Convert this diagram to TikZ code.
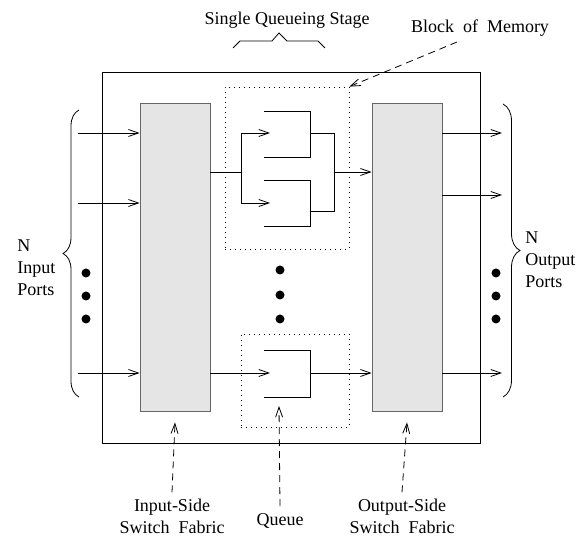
\documentclass[tikz,border=0pt]{standalone}
\usepackage{fontspec}
\setmainfont{Liberation Serif}
\usetikzlibrary{arrows.meta,decorations.pathreplacing}

\tikzset{
  fabric/.style={draw=black!60,fill=black!10,minimum width=70pt,minimum height=308pt,inner sep=0pt},
  stagebox/.style={draw,dash pattern=on 1pt off 4pt,inner sep=0pt},
  callout/.style={dash pattern=on 7pt off 5pt,->},
  portdot/.style={circle,fill,inner sep=0pt,minimum size=9pt},
  lbl/.style={align=center,inner sep=0pt},
}

\begin{document}
\begin{tikzpicture}[
        x=1pt,y=-1pt,line width=0.8pt,
        >={Straight Barb[length=10pt,width=7pt]},
        font=\fontsize{18}{22}\selectfont
    ]
        \useasboundingbox (0,0) rectangle (582,537);

        % switch and its two fabrics
        \node[draw,minimum width=378pt,minimum height=371pt,inner sep=0pt] (sw) at (291,257.5) {};
        \node[fabric] (inF) at (175,257) {};
        \node[fabric] (outF) at (407,257) {};

        % queueing stages
        \node[stagebox,minimum width=124pt,minimum height=162pt] (blk) at (287,168) {};
        \node[stagebox,minimum width=108pt,minimum height=93pt] (qbox) at (295,380.5) {};

        \draw (264,111) -- (310,111) -- (310,157) -- (264,157);
        \draw (264,180) -- (310,180) -- (310,226) -- (264,226);
        \draw (264,350) -- (310,350) -- (310,397) -- (264,397);

        \coordinate (split) at (241,172);
        \coordinate (merge) at (334,172);
        \coordinate (q1in) at (270,133);
        \coordinate (q2in) at (270,203);
        \coordinate (q1out) at (310,133);
        \coordinate (q2out) at (310,211);
        \coordinate (q3in) at (270,373);
        \coordinate (q3out) at (310,373);
        \coordinate (q3tip) at (279,406);

        \draw (inF.east |- split) -- (split);
        \draw[->] (split) |- (q1in);
        \draw[->] (split) |- (q2in);
        \draw (q1out) -| (merge);
        \draw (q2out) -| (merge);
        \draw[->] (merge) -- (outF.west |- merge);
        \draw[->] (inF.east |- q3in) -- (q3in);
        \draw[->] (q3out) -- (outF.west |- q3out);

        % ports
        \foreach \y in {133,203,373} {
            \coordinate (in\y) at (78,\y);
            \draw[->] (in\y) -- (inF.west |- in\y);
        }
        \foreach \y in {133,195,373} {
            \coordinate (out\y) at (502,\y);
            \draw[->] (outF.east |- out\y) -- (out\y);
        }
        \foreach \y in {273,296,319} {
            \node[portdot] (ldot\y) at (86,\y) {};
            \node[portdot] (rdot\y) at (496,\y) {};
        }
        \foreach \y [count=\i] in {270,295,319} {
            \node[portdot] (mdot\i) at (280,\y) {};
        }

        \draw[decorate,decoration={brace,amplitude=16pt}] (79,397) -- (79,110);
        \draw[decorate,decoration={brace,amplitude=17pt}] (503,104) -- (503,397);
        \node[lbl,align=left,anchor=west] (inports) at (17,268) {N\\Input\\Ports};
        \node[lbl,align=left,anchor=west] (outports) at (525,260) {N\\Output\\Ports};

        % labels on top
        \node[lbl] (stagelbl) at (287,20) {Single Queueing Stage};
        \draw (233,48) -- (240,41) -- (272,41) -- (279,33) -- (287,41) -- (318,41) -- (325,48);
        \node[lbl] (memlbl) at (480,28) {Block\ \ of\ \ Memory};
        \coordinate (memtail) at (457,42);
        \draw[callout] (memtail) -- (blk.north east);

        % labels below
        \node[lbl] (inlbl) at (172,516) {Input-Side\\Switch\ \ Fabric};
        \node[lbl] (qlbl) at (280,521) {Queue};
        \node[lbl] (outlbl) at (402,516) {Output-Side\\Switch\ \ Fabric};
        \draw[callout] ([yshift=6pt]inlbl.north) -- ([yshift=-11pt]inF.south);
        \draw[callout] ([yshift=7pt]qlbl.north) -- (q3tip);
        \draw[callout] ([yshift=6pt]outlbl.north) -- ([yshift=-11pt]outF.south);
    \end{tikzpicture}
\end{document}
